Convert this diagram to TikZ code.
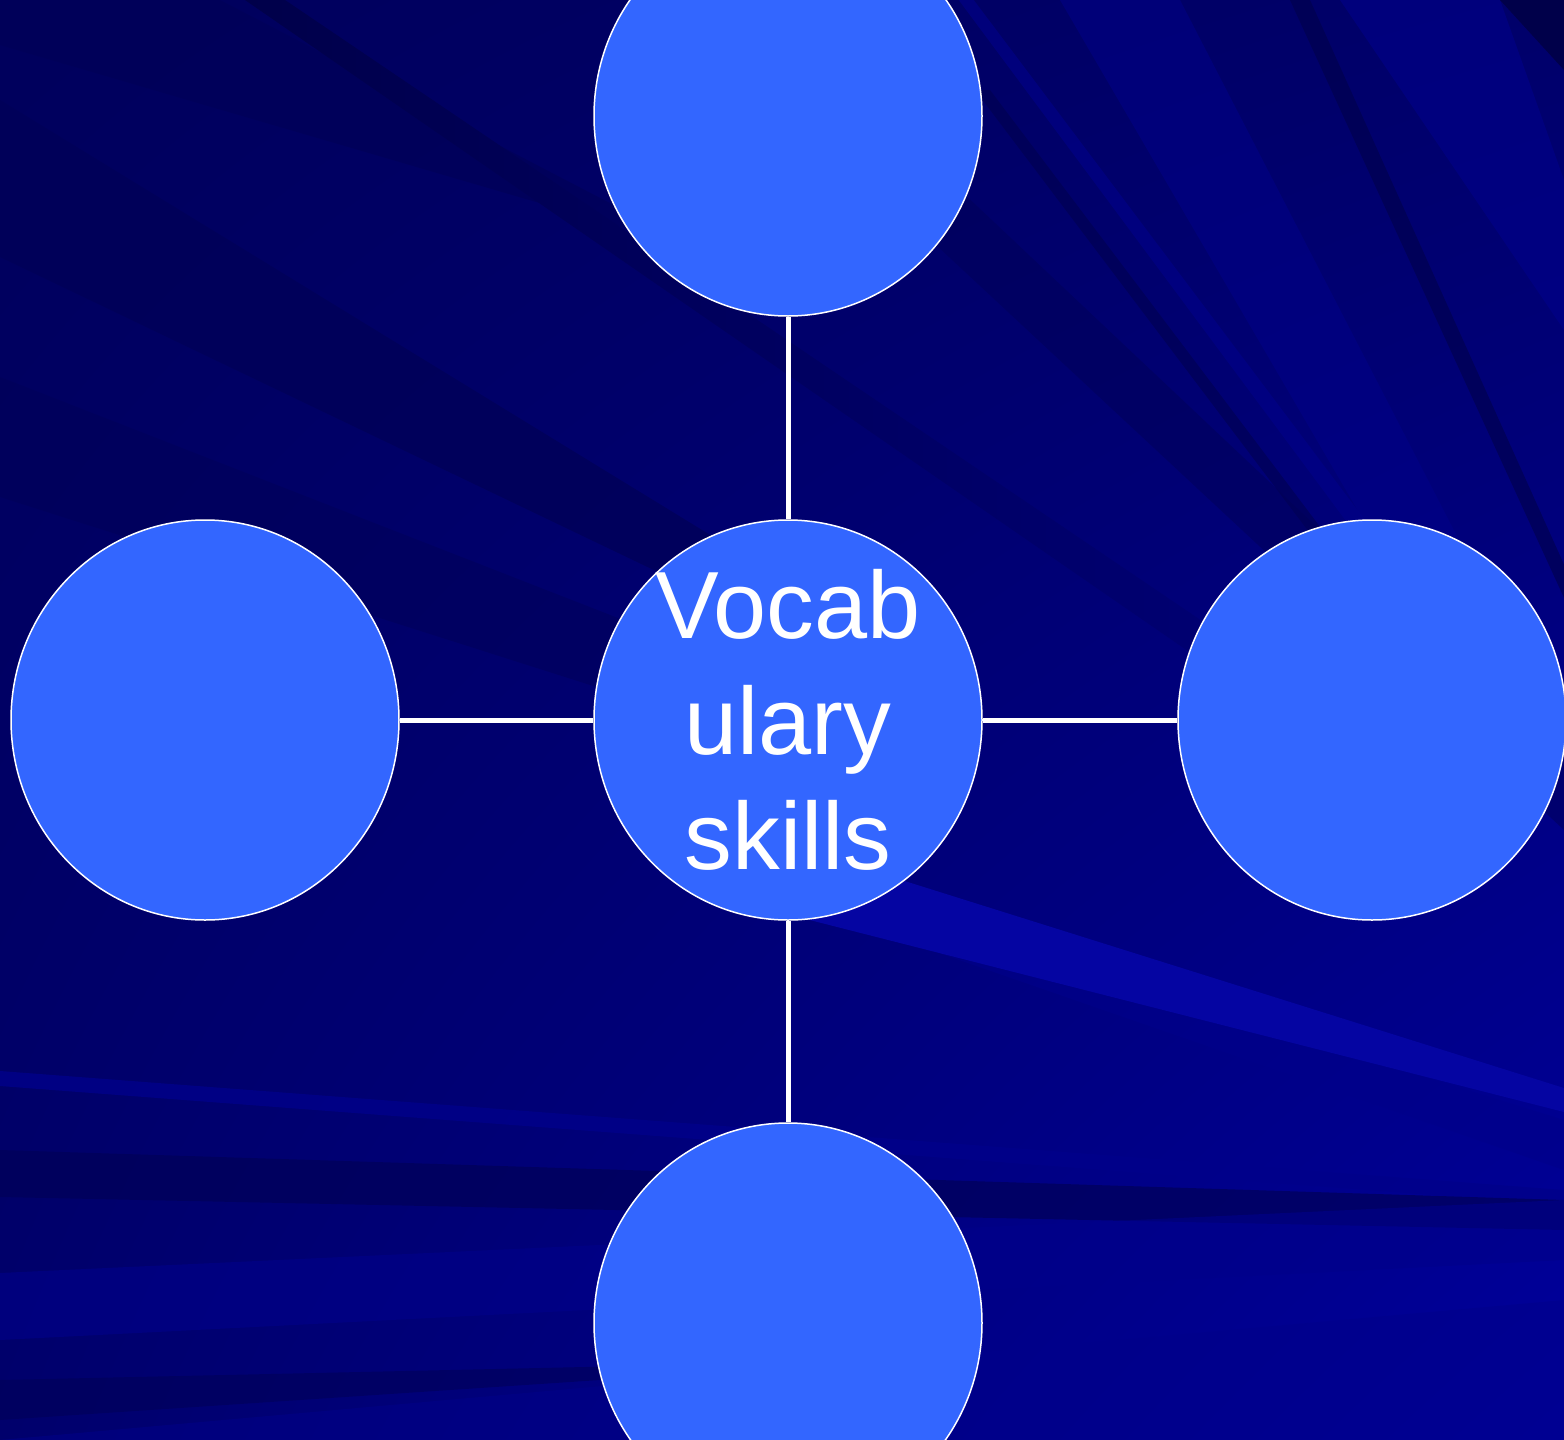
\documentclass[tikz,border=0pt]{standalone}
\usepackage{fontspec}
\setmainfont{Liberation Sans}
\usetikzlibrary{shapes.geometric,shadings}
\definecolor{bubblefill}{HTML}{3366FF}
\definecolor{bgtl}{HTML}{00005C}
\definecolor{bgtr}{HTML}{00006A}
\definecolor{bgbl}{HTML}{00006C}
\definecolor{bgbr}{HTML}{00009C}
\definecolor{bgmid}{HTML}{000072}
\definecolor{streakdark}{HTML}{00004A}
\definecolor{streakdim}{HTML}{000058}
\definecolor{streakmid}{HTML}{00008A}
\definecolor{streaklight}{HTML}{0505A2}
\tikzset{
  bubble/.style={ellipse, draw=white, line width=1.5pt, fill=bubblefill,
    minimum width=388pt, minimum height=400pt, inner sep=0pt},
  link/.style={draw=white, line width=5pt},
  bigtext/.style={text=white, align=center,
    font=\fontsize{95.5}{115.5}\selectfont, inner sep=0pt}
}
\begin{document}
\begin{tikzpicture}[x=1pt,y=-1pt]
% canvas
\useasboundingbox (0,0) rectangle (1564,1440);
\begin{scope}
\clip (0,0) rectangle (1564,1440);
\shade[upper left=bgtl, upper right=bgtr, lower left=bgbl, lower right=bgbr]
  (0,0) rectangle (1564,1440);
% swooping rays of the backdrop; every ray runs off the edge or under a bubble
\fill[streakdim, opacity=0.7] (0,0) -- (220,0) -- (700,250) -- (0,45) -- cycle;
\fill[streakdim, opacity=0.8] (0,100) -- (800,590) -- (800,640) -- (0,257) -- cycle;
\fill[streakdim, opacity=0.5] (0,377) -- (700,650) -- (700,720) -- (0,497) -- cycle;
\shade[left color=streakdark, right color=bgmid]
  (245,0) -- (285,0) -- (1230,640) -- (1230,680) -- cycle;
\fill[streakmid, opacity=0.6] (955,-5) -- (970,-5) -- (1395,560) -- (1375,560) -- cycle;
\fill[streakdark, opacity=0.5] (975,90) -- (990,90) -- (1330,540) -- (1315,540) -- cycle;
\fill[streakmid, opacity=0.5] (1060,0) -- (1180,0) -- (1490,600) -- (1410,600) -- cycle;
\fill[streakdark, opacity=0.6] (1290,0) -- (1310,0) -- (1580,600) -- (1565,600) -- cycle;
\fill[streakmid, opacity=0.6] (1340,0) -- (1500,0) -- (1564,180) -- (1564,330) -- cycle;
\fill[streakdark] (1500,0) -- (1564,0) -- (1564,70) -- cycle;
\fill[streakdim, opacity=0.5] (920,230) -- (960,190) -- (1564,760) -- (1564,830) -- cycle;
\fill[streakmid, opacity=0.6] (700,870) -- (760,870) -- (1564,1120) -- (1564,1170) -- cycle;
\fill[streaklight] (790,845) -- (1564,1088) -- (1564,1112) -- (790,915) -- cycle;
\fill[streakmid, opacity=0.8] (0,1071) -- (1564,1190) -- (1564,1205) -- (0,1086) -- cycle;
\fill[streakdim, opacity=0.7] (0,1150) -- (1564,1200) -- (1564,1230) -- (0,1197) -- cycle;
\fill[streakmid, opacity=0.6] (0,1273) -- (1564,1200) -- (1564,1260) -- (0,1340) -- cycle;
\fill[streakmid, opacity=0.5] (0,1440) -- (1564,1300) -- (1564,1440) -- cycle;
\fill[streakdim, opacity=0.6] (0,1380) -- (900,1360) -- (0,1420) -- cycle;
\end{scope}
% concept map
\node[bubble] (core)   at (788,720)  {};
\node[bubble] (top)    at (788,116)  {};
\node[bubble] (bottom) at (788,1323) {};
\node[bubble] (left)   at (205,720)  {};
\node[bubble] (right)  at (1372,720) {};
\draw[link] (core) -- (top);
\draw[link] (core) -- (bottom);
\draw[link] (core) -- (left);
\draw[link] (core) -- (right);
\node[bigtext] (title) at (788,720) {Vocab\\ulary\\skills};
\end{tikzpicture}
\end{document}
